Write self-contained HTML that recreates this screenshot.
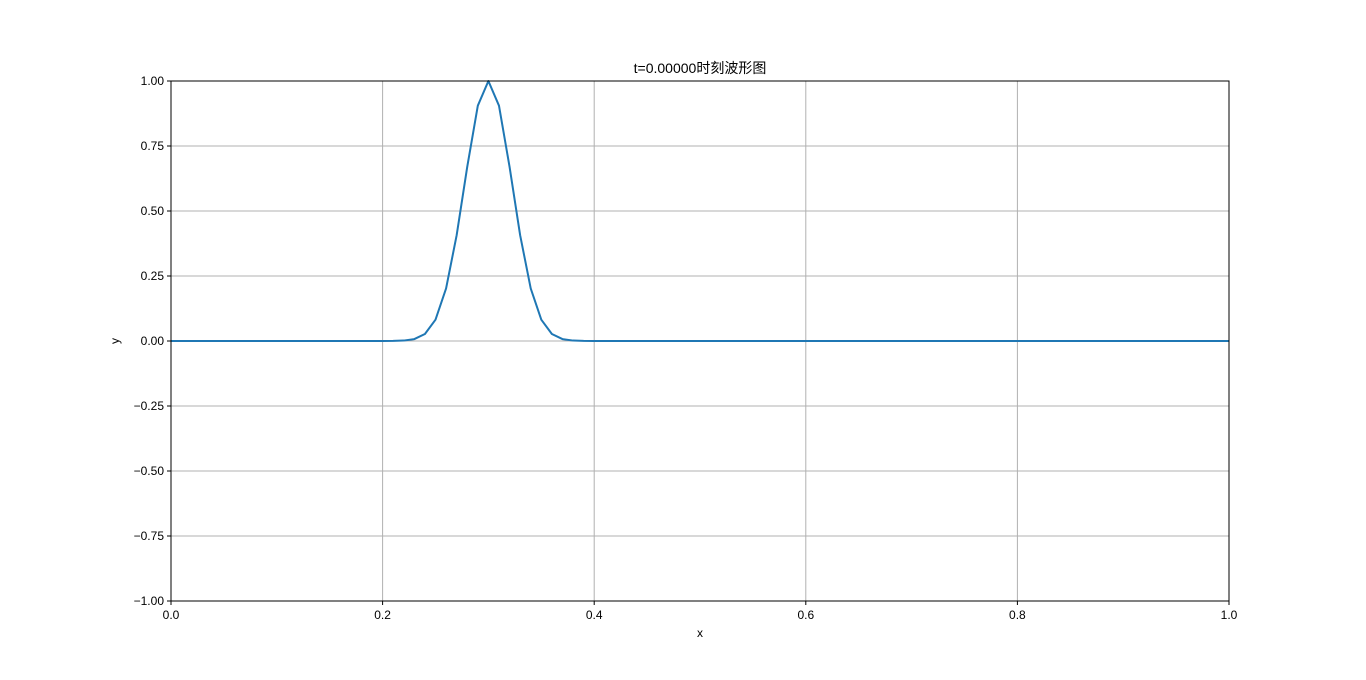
<!DOCTYPE html>
<html><head><meta charset="utf-8"><style>
html,body{margin:0;padding:0;background:#fff;}
svg text{font-family:"WenQuanYi Zen Hei","Liberation Sans",sans-serif;fill:#000;}
</style></head><body>
<svg id="chart" width="1366" height="675" xmlns="http://www.w3.org/2000/svg">
<rect width="1366" height="675" fill="#fff"/>
<g id="grid"></g>
<g id="ticks"></g>
<path id="line" fill="none" stroke="#1f77b4" stroke-width="2" stroke-linejoin="round"/>
<rect x="171" y="81" width="1058" height="520" fill="none" stroke="#000" stroke-width="1"/>
<text x="700" y="73" text-anchor="middle" font-size="14">t=0.00000时刻波形图</text>
<text x="700" y="637" text-anchor="middle" font-size="12">x</text>
<text x="119" y="341" text-anchor="middle" font-size="12" transform="rotate(-90 119 341)">y</text>
</svg>
<script>
const xs = [0, 0.20, 0.21, 0.22, 0.23, 0.24, 0.25, 0.26, 0.27, 0.28, 0.29, 0.30, 0.31, 0.32, 0.33, 0.34, 0.35, 0.36, 0.37, 0.38, 0.39, 0.40, 1.0];
const ys = [0, 0, 0.0003, 0.0017, 0.0074, 0.027, 0.082, 0.202, 0.407, 0.670, 0.905, 1.0, 0.905, 0.670, 0.407, 0.202, 0.082, 0.027, 0.0074, 0.0017, 0.0003, 0, 0];
const xTicks = [0, 0.2, 0.4, 0.6, 0.8, 1.0];
const xTickLabels = ["0.0", "0.2", "0.4", "0.6", "0.8", "1.0"];
const yTicks = [-1, -0.75, -0.5, -0.25, 0, 0.25, 0.5, 0.75, 1];
const yTickLabels = ["\u22121.00", "\u22120.75", "\u22120.50", "\u22120.25", "0.00", "0.25", "0.50", "0.75", "1.00"];

const NS = "http://www.w3.org/2000/svg";
const L = 171, R = 1229, T = 81, B = 601;
const sx = v => L + v * (R - L);
const sy = v => B - (v + 1) / 2 * (B - T);
const grid = document.getElementById('grid');
const ticks = document.getElementById('ticks');
function mk(tag, attrs, parent) {
  const e = document.createElementNS(NS, tag);
  for (const k in attrs) e.setAttribute(k, attrs[k]);
  parent.appendChild(e);
  return e;
}
xTicks.forEach((v, i) => {
  const x = sx(v);
  const g = mk('line', {x1: x, x2: x, y1: T, y2: B, stroke: '#b0b0b0', 'stroke-width': 1}, grid);
  
  
  const t = mk('line', {x1: x, x2: x, y1: B, y2: B + 4, stroke: '#000'}, ticks);
  
  
  const lb = mk('text', {x: x, y: B + 18, 'text-anchor': 'middle', 'font-size': 12}, ticks);
  lb.textContent = xTickLabels[i];
  
  
});
yTicks.forEach((v, i) => {
  const y = sy(v);
  const g = mk('line', {x1: L, x2: R, y1: y, y2: y, stroke: '#b0b0b0', 'stroke-width': 1}, grid);
  
  
  const t = mk('line', {x1: L - 4, x2: L, y1: y, y2: y, stroke: '#000'}, ticks);
  
  
  const lb = mk('text', {x: L - 7, y: y + 4, 'text-anchor': 'end', 'font-size': 12}, ticks);
  lb.textContent = yTickLabels[i];
  
  
});
document.getElementById('line').setAttribute('d',
  xs.map((v, i) => (i ? 'L' : 'M') + sx(v).toFixed(2) + ',' + sy(ys[i]).toFixed(2)).join(' '));
</script>
</body></html>
